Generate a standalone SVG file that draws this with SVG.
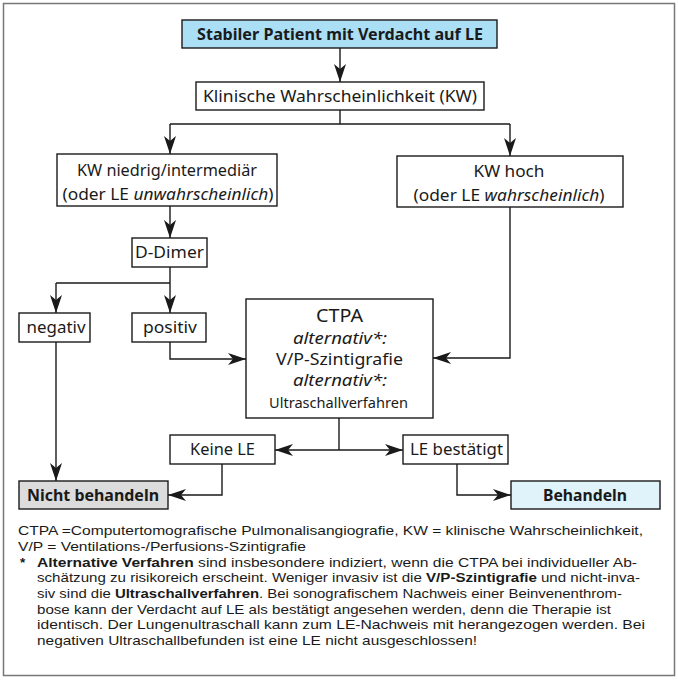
<svg xmlns="http://www.w3.org/2000/svg" width="678" height="680" viewBox="0 0 678 680">
<defs>
<marker id="ah" markerUnits="userSpaceOnUse" markerWidth="20" markerHeight="14" refX="18" refY="7" orient="auto">
<path d="M0,1 L18,7 L0,13 L5,7 Z" fill="#1a1a1a"/>
</marker>
<style>
.box{fill:#fff;stroke:#1a1a1a;stroke-width:1.4}
.t{font-family:"Noto Sans","Open Sans","Liberation Sans",sans-serif;font-size:16px;fill:#1a1a1a;text-anchor:middle}
.b{font-weight:bold}
.i{font-style:italic}
.c{fill:none;stroke:#1a1a1a;stroke-width:1.4}
.a{marker-end:url(#ah)}
.f{font-family:"Liberation Sans","Arimo",sans-serif;font-size:13.5px;fill:#1a1a1a}
</style>
</defs>
<rect x="3.5" y="3.5" width="671" height="672" fill="#fff" stroke="#777" stroke-width="1.5"/>

<g id="connectors">
<path class="c a" d="M340,48 V82"/>
<path class="c" d="M340,110 V124 M170,124 H510"/>
<path class="c a" d="M170,124 V154"/>
<path class="c a" d="M510,124 V156"/>
<path class="c a" d="M170,206 V238"/>
<path class="c" d="M170,267 V283 M56,283 H170"/>
<path class="c a" d="M56,283 V313"/>
<path class="c a" d="M170,283 V313"/>
<path class="c a" d="M170,342 V359 H246"/>
<path class="c a" d="M510,207 V358 H433"/>
<path class="c a" d="M56,342 V481"/>
<path class="c" d="M339,418 V450"/>
<path class="c a" d="M339,450 H275"/>
<path class="c a" d="M339,450 H403"/>
<path class="c a" d="M222,464 V495 H168"/>
<path class="c a" d="M457,464 V495 H511"/>
</g>

<g id="start">
<rect class="box" x="182" y="20" width="315" height="28" style="fill:#aadff6"/>
<text class="t b" x="340" y="40" textLength="286" lengthAdjust="spacingAndGlyphs">Stabiler Patient mit Verdacht auf LE</text>
</g>
<g id="kw">
<rect class="box" x="196" y="82" width="288" height="28"/>
<text class="t" x="340" y="102" textLength="274" lengthAdjust="spacingAndGlyphs">Klinische Wahrscheinlichkeit (KW)</text>
</g>
<g id="kw-niedrig">
<rect class="box" x="57" y="154" width="220" height="52"/>
<text class="t" x="167" y="176" textLength="180" lengthAdjust="spacingAndGlyphs">KW niedrig/intermediär</text>
<text class="t" x="168" y="200" textLength="211" lengthAdjust="spacingAndGlyphs">(oder LE <tspan class="i">unwahrscheinlich</tspan>)</text>
</g>
<g id="kw-hoch">
<rect class="box" x="397" y="156" width="226" height="51"/>
<text class="t" x="509" y="177" textLength="71" lengthAdjust="spacingAndGlyphs">KW hoch</text>
<text class="t" x="509" y="201" textLength="191" lengthAdjust="spacingAndGlyphs">(oder LE <tspan class="i">wahrscheinlich</tspan>)</text>
</g>
<g id="ddimer">
<rect class="box" x="132" y="238" width="75" height="29"/>
<text class="t" x="169.5" y="258" textLength="69" lengthAdjust="spacingAndGlyphs">D-Dimer</text>
</g>
<g id="negativ">
<rect class="box" x="19" y="313" width="71" height="29"/>
<text class="t" x="56" y="333" textLength="59" lengthAdjust="spacingAndGlyphs">negativ</text>
</g>
<g id="positiv">
<rect class="box" x="132" y="313" width="74" height="29"/>
<text class="t" x="170" y="333" textLength="54" lengthAdjust="spacingAndGlyphs">positiv</text>
</g>
<g id="ctpa">
<rect class="box" x="246" y="299" width="187" height="119"/>
<text class="t" x="339.5" y="322" style="font-size:18px" textLength="47" lengthAdjust="spacingAndGlyphs">CTPA</text>
<text class="t i" x="340" y="344" style="font-size:15.5px" textLength="94" lengthAdjust="spacingAndGlyphs">alternativ*:</text>
<text class="t" x="339.5" y="365" style="font-size:17px" textLength="127" lengthAdjust="spacingAndGlyphs">V/P-Szintigrafie</text>
<text class="t i" x="340" y="386" style="font-size:15.5px" textLength="94" lengthAdjust="spacingAndGlyphs">alternativ*:</text>
<text class="t" x="338.5" y="408" style="font-size:14px" textLength="139" lengthAdjust="spacingAndGlyphs">Ultraschallverfahren</text>
</g>
<g id="keine-le">
<rect class="box" x="170" y="435" width="105" height="29"/>
<text class="t" x="222.5" y="455" textLength="65" lengthAdjust="spacingAndGlyphs">Keine LE</text>
</g>
<g id="le-bestaetigt">
<rect class="box" x="403" y="435" width="105" height="29"/>
<text class="t" x="456.5" y="455" textLength="93" lengthAdjust="spacingAndGlyphs">LE bestätigt</text>
</g>
<g id="nicht-behandeln">
<rect class="box" x="19" y="481" width="149" height="28" style="fill:#dcdcdc"/>
<text class="t b" x="93" y="501" textLength="132" lengthAdjust="spacingAndGlyphs">Nicht behandeln</text>
</g>
<g id="behandeln">
<rect class="box" x="511" y="481" width="149" height="28" style="fill:#e0f3fb"/>
<text class="t b" x="585" y="501" textLength="84" lengthAdjust="spacingAndGlyphs">Behandeln</text>
</g>

<g id="footer">
<text class="f" x="18" y="535" textLength="625" lengthAdjust="spacingAndGlyphs">CTPA =Computertomografische Pulmonalisangiografie, KW = klinische Wahrscheinlichkeit,</text>
<text class="f" x="18" y="551" textLength="288" lengthAdjust="spacingAndGlyphs">V/P = Ventilations-/Perfusions-Szintigrafie</text>
<text class="f b" x="20" y="567">*</text>
<text class="f" x="37" y="567" textLength="600" lengthAdjust="spacingAndGlyphs"><tspan class="b">Alternative Verfahren</tspan> sind insbesondere indiziert, wenn die CTPA bei individueller Ab-</text>
<text class="f" x="37" y="582" textLength="603" lengthAdjust="spacingAndGlyphs">schätzung zu risikoreich erscheint. Weniger invasiv ist die <tspan class="b">V/P-Szintigrafie</tspan> und nicht-inva-</text>
<text class="f" x="37" y="598" textLength="585" lengthAdjust="spacingAndGlyphs">siv sind die <tspan class="b">Ultraschallverfahren</tspan>. Bei sonografischem Nachweis einer Beinvenenthrom-</text>
<text class="f" x="37" y="614" textLength="574" lengthAdjust="spacingAndGlyphs">bose kann der Verdacht auf LE als bestätigt angesehen werden, denn die Therapie ist</text>
<text class="f" x="37" y="629" textLength="608" lengthAdjust="spacingAndGlyphs">identisch. Der Lungenultraschall kann zum LE-Nachweis mit herangezogen werden. Bei</text>
<text class="f" x="37" y="645" textLength="440" lengthAdjust="spacingAndGlyphs">negativen Ultraschallbefunden ist eine LE nicht ausgeschlossen!</text>
</g>
</svg>
